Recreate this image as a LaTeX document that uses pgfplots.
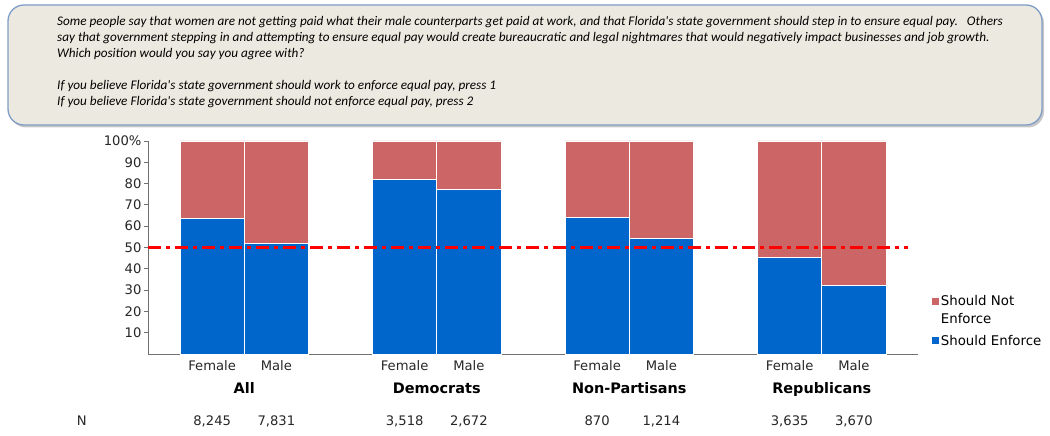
\documentclass[border=0pt]{standalone}
\usepackage{pgfplots}
\usepackage{pgfplotstable}
\pgfplotsset{compat=1.18}
\usepackage{fontspec}
\setmainfont{DejaVu Sans}
\newfontfamily\calibri{Carlito}
\definecolor{enf}{HTML}{0066CC}
\definecolor{notenf}{HTML}{CC6666}
\definecolor{boxfill}{HTML}{ECEAE0}
\definecolor{boxborder}{HTML}{7F9DC8}
\definecolor{axgray}{HTML}{707070}

\pgfplotstableread{
x enforce notenforce
0 63.7 36.3
1 52.1 47.9
3 82.0 18.0
4 77.3 22.7
6 64.2 35.8
7 54.3 45.7
9 45.4 54.6
10 32.2 67.8
}\data

\tikzset{
  qtext/.style={anchor=base west, inner sep=0pt, font=\calibri\itshape\fontsize{13.25}{15}\selectfont},
  grp/.style={font=\bfseries\fontsize{14.5}{16}\selectfont, anchor=base, yshift=-39.3bp},
  nrow/.style={font=\fontsize{13.2}{15}\selectfont, anchor=base, text=black!85, yshift=-71.3bp},
}

\begin{document}
\begin{tikzpicture}
\path[use as bounding box] (0bp,0bp) rectangle (1050bp,436bp);
\fill[black!22, rounded corners=16bp] (10bp,308.5bp) rectangle (1044bp,428.5bp);
\draw[boxborder, line width=1.3bp, fill=boxfill, rounded corners=16bp] (8bp,311bp) rectangle (1042bp,431bp);
\node[qtext] at (57bp,410.5bp) {Some people say that women are not getting paid what their male counterparts get paid at work, and that Florida's state government should step in to ensure equal pay.\ \ \ Others};
\node[qtext] at (57bp,394.5bp) {say that government stepping in and attempting to ensure equal pay would create bureaucratic and legal nightmares that would negatively impact businesses and job growth.};
\node[qtext] at (57bp,378.5bp) {Which position would you say you agree with?};
\node[qtext] at (57bp,346bp) {If you believe Florida's state government should work to enforce equal pay, press 1};
\node[qtext] at (57bp,330bp) {If you believe Florida's state government should not enforce equal pay, press 2};

\begin{axis}[
  at={(148bp,82bp)}, anchor=south west,
  scale only axis, width=770bp, height=213bp,
  xmin=-1, xmax=11, ymin=0, ymax=100,
  ybar stacked, bar width=1,
  axis x line*=bottom, axis y line*=left,
  axis line style={axgray, line width=1bp},
  xtick={0,1,3,4,6,7,9,10},
  xticklabels={Female,Male,Female,Male,Female,Male,Female,Male},
  x tick style={draw=none},
  ytick={10,20,30,40,50,60,70,80,90,100},
  yticklabels={10,20,30,40,50,60,70,80,90,100\%},
  y tick style={axgray, line width=0.8bp},
  tick align=outside, major tick length=4bp,
  ticklabel style={font=\fontsize{13.2}{15}\selectfont, text=black!85},
  x tick label style={yshift=1.5bp},
  y tick label style={xshift=1bp},
  /pgf/number format/assume math mode=true,
  clip=false,
  reverse legend,
  legend style={at={(rel axis cs:1.018,0.285)}, anchor=north west, draw=none, fill=none,
    font=\fontsize{13.4}{18}\selectfont, inner sep=0pt, row sep=6bp,
    cells={anchor=west, align=left}},
]
\addplot[fill=enf, draw=white, line width=0.8bp,
  legend image code/.code={\fill[enf] (0bp,-3bp) rectangle (6bp,3bp);}]
  table[x=x, y=enforce] {\data};
\addlegendentry{Should Enforce}
\addplot[fill=notenf, draw=white, line width=0.8bp,
  legend image code/.code={\fill[notenf] (0bp,6bp) rectangle (6bp,12bp);}]
  table[x=x, y=notenforce] {\data};
\addlegendentry{Should Not\\Enforce}
\node[grp] at (axis cs:0.5,0) {All};
\node[grp] at (axis cs:3.5,0) {Democrats};
\node[grp] at (axis cs:6.5,0) {Non-Partisans};
\node[grp] at (axis cs:9.5,0) {Republicans};
\node[nrow] at (axis cs:-2.03,0) {N};
\node[nrow] at (axis cs:0,0) {8,245};
\node[nrow] at (axis cs:1,0) {7,831};
\node[nrow] at (axis cs:3,0) {3,518};
\node[nrow] at (axis cs:4,0) {2,672};
\node[nrow] at (axis cs:6,0) {870};
\node[nrow] at (axis cs:7,0) {1,214};
\node[nrow] at (axis cs:9,0) {3,635};
\node[nrow] at (axis cs:10,0) {3,670};
\end{axis}

\begin{axis}[
  at={(148bp,82bp)}, anchor=south west,
  scale only axis, width=770bp, height=213bp,
  xmin=-1, xmax=11, ymin=0, ymax=100,
  hide axis,
]
\addplot[color=red, line width=2.4bp, dash pattern=on 13bp off 5bp on 4bp off 5bp, mark=none]
  coordinates {(-1,50) (10.85,50)};
\end{axis}
\end{tikzpicture}
\end{document}
